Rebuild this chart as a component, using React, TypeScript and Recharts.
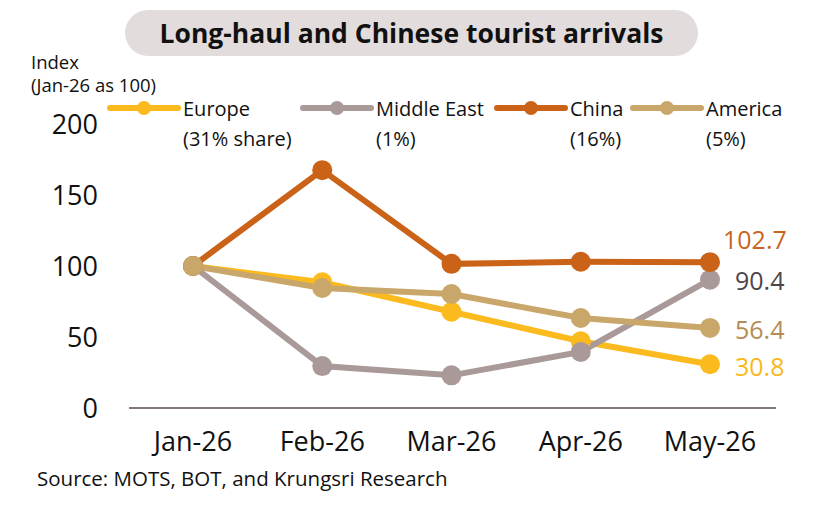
import { CartesianGrid, LabelList, Line, LineChart, XAxis, YAxis } from 'recharts'

const categories = ['Jan-26', 'Feb-26', 'Mar-26', 'Apr-26', 'May-26']
const europe = [100, 88.5, 67.8, 47, 30.8]
const middleEast = [100, 29.5, 23, 39.5, 90.4]
const china = [100, 167.5, 101.5, 103, 102.7]
const america = [100, 84.5, 80.3, 63.4, 56.4]
const yTicks = [0, 50, 100, 150, 200]

const FONT = '"Open Sans", Lato, sans-serif'

const series = [
  { key: 'europe', name: 'Europe', share: '(31% share)', values: europe, color: '#FBBA1E', labelColor: '#F9B81A', dx: 25, dy: 2, legendX: 110 },
  { key: 'middleEast', name: 'Middle East', share: '(1%)', values: middleEast, color: '#A99999', labelColor: '#4D4648', dx: 25, dy: 0, legendX: 303 },
  { key: 'china', name: 'China', share: '(16%)', values: china, color: '#CA6218', labelColor: '#C8641E', dx: 13, dy: -23, legendX: 497 },
  { key: 'america', name: 'America', share: '(5%)', values: america, color: '#C9A76A', labelColor: '#B38D52', dx: 25, dy: 1, legendX: 633 },
]

const data = categories.map((c, i) => ({
  month: c,
  europe: europe[i],
  middleEast: middleEast[i],
  china: china[i],
  america: america[i],
}))

function endLabel(color: string, dx: number, dy: number) {
  return (props: any) => {
    const { x, y, value, index } = props
    if (index !== categories.length - 1) return null
    return (
      <text
        x={x + dx}
        y={y + dy}
        fill={color}
        fontSize={25}
        fontFamily={FONT}
        dominantBaseline="central"
        textAnchor="start"
      >
        {Number(value).toFixed(1)}
      </text>
    )
  }
}

export default function App() {
  return (
    <div style={{ position: 'absolute', left: 0, top: 0, width: 840, height: 511, background: '#fff', fontFamily: FONT }}>
      <div
        style={{
          position: 'absolute',
          left: 125,
          top: 10,
          width: 573,
          height: 46,
          borderRadius: 23,
          background: '#E2DDDC',
          display: 'flex',
          alignItems: 'center',
          justifyContent: 'center',
          fontWeight: 700,
          fontSize: 26.5,
          color: '#111',
        }}
      >
        Long-haul and Chinese tourist arrivals
      </div>
      <div style={{ position: 'absolute', left: 31, top: 50, fontSize: 18.5, lineHeight: '23px', color: '#111' }}>
        Index
        <br />
        (Jan-26 as 100)
      </div>

      <LineChart
        width={840}
        height={511}
        data={data}
        margin={{ top: 124, right: 64, bottom: 43, left: 0 }}
      >
        <CartesianGrid horizontal={false} vertical={false} />
        <XAxis
          dataKey="month"
          height={60}
          padding={{ left: 64, right: 66 }}
          tickLine={false}
          tickSize={0}
          tickMargin={24}
          axisLine={{ stroke: '#5A4B4F', strokeWidth: 1.5 }}
          tick={{ fill: '#111', fontSize: 27, fontFamily: FONT }}
        />
        <YAxis
          width={129}
          domain={[0, 200]}
          ticks={yTicks}
          axisLine={false}
          tickLine={false}
          tickSize={0}
          tickMargin={31}
          tick={{ fill: '#111', fontSize: 27, fontFamily: FONT }}
        />
        {series.map((s) => (
          <Line
            key={s.key}
            dataKey={s.key}
            name={s.name}
            stroke={s.color}
            strokeWidth={6}
            dot={{ r: 10, fill: s.color, stroke: 'none' }}
            activeDot={false}
            isAnimationActive={false}
          >
            <LabelList dataKey={s.key} content={endLabel(s.labelColor, s.dx, s.dy)} />
          </Line>
        ))}
      </LineChart>

      <svg style={{ position: 'absolute', left: 0, top: 0 }} width={840} height={160}>
        {series.map((s) => (
          <g key={s.key}>
            <line x1={s.legendX} x2={s.legendX + 68} y1={108} y2={108} stroke={s.color} strokeWidth={6} strokeLinecap="round" />
            <circle cx={s.legendX + 34} cy={108} r={7} fill={s.color} />
            <text x={s.legendX + 73} y={108} fontSize={20} fontFamily={FONT} fill="#111" dominantBaseline="central">
              {s.name}
            </text>
            <text x={s.legendX + 73} y={138} fontSize={20} fontFamily={FONT} fill="#111" dominantBaseline="central">
              {s.share}
            </text>
          </g>
        ))}
      </svg>

      <div style={{ position: 'absolute', left: 37, top: 464, fontSize: 20.5, color: '#111' }}>
        Source: MOTS, BOT, and Krungsri Research
      </div>
    </div>
  )
}
